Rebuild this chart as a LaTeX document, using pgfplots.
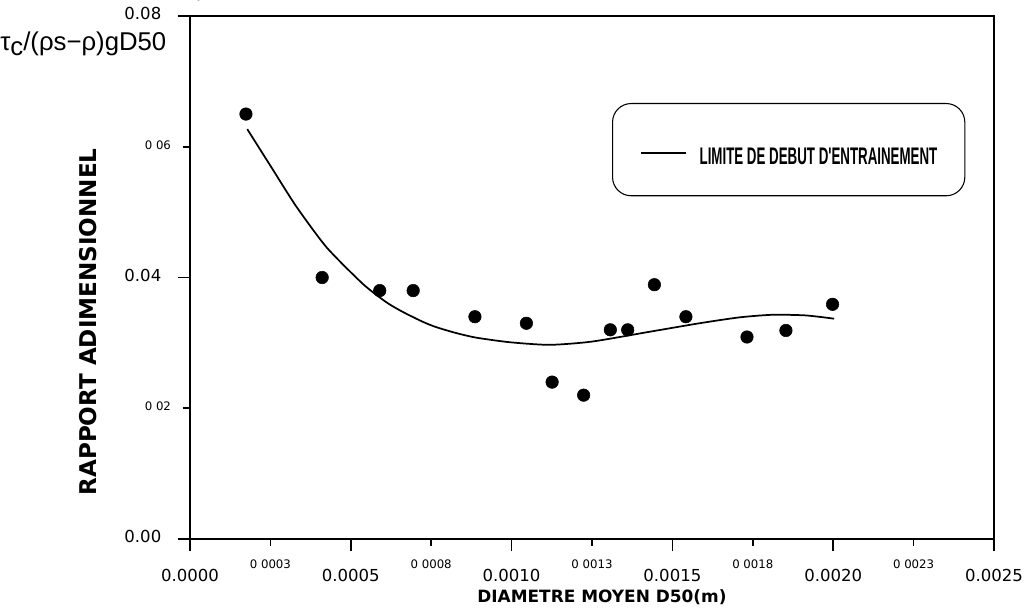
\documentclass[border=0pt]{standalone}
\usepackage{fontspec}
\setmainfont{DejaVu Sans}
\newfontfamily\tickfont{DejaVu Sans}
\newfontfamily\labfont{DejaVu Sans}
\newfontfamily\legfont{Liberation Sans}
\newfontfamily\symfont{Liberation Sans}
\usepackage{pgfplots}
\pgfplotsset{compat=1.18}
\usepackage{graphicx}

\pgfplotstableread{
x y
0.000174 0.0650
0.000411 0.0400
0.000590 0.0380
0.000694 0.0380
0.000886 0.0340
0.001046 0.0330
0.001126 0.0240
0.001224 0.0220
0.001307 0.0320
0.001361 0.0320
0.001444 0.0389
0.001542 0.0340
0.001732 0.0309
0.001853 0.0319
0.001998 0.0359
}\points

\pgfplotstableread{
x y
0.000178 0.0627
0.000250 0.0571
0.000330 0.0509
0.000425 0.0446
0.000538 0.0390
0.000611 0.0362
0.000663 0.0347
0.000725 0.0332
0.000766 0.0324
0.000828 0.0315
0.000890 0.0308
0.000994 0.0301
0.001118 0.0297
0.001250 0.0302
0.001429 0.0317
0.001584 0.0330
0.001708 0.0339
0.001812 0.0343
0.001915 0.0342
0.002003 0.0337
}\curve

\begin{document}
\begin{tikzpicture}
\begin{axis}[
  at={(0pt,0pt)}, anchor=south west,
  scale only axis, width=603pt, height=392.25pt,
  xmin=0, xmax=0.0025, ymin=0, ymax=0.08,
  clip=false,
  axis line style={line width=1.3pt},
  tick align=outside, tick pos=left,
  tick style={line width=1.2pt, black},
  major tick length=9pt,
  xtick={0,0.0005,0.001,0.0015,0.002,0.0025},
  xticklabels={0.0000,0.0005,0.0010,0.0015,0.0020,0.0025},
  extra x ticks={0.00025,0.00075,0.00125,0.00175,0.00225},
  extra x tick labels={0 0003,0 0008,0 0013,0 0018,0 0023},
  extra x tick style={major tick length=5pt,
     xticklabel style={font=\tickfont\fontsize{8.8}{9}\selectfont, yshift=5.25pt}},
  xticklabel style={font=\tickfont\fontsize{12.4}{13}\selectfont, anchor=center, yshift=-20.25pt},
  ytick={0,0.04,0.08},
  yticklabels={0.00,0.04,0.08},
  extra y ticks={0.02,0.06},
  extra y tick labels={0 02,0 06},
  extra y tick style={major tick length=5.5pt,
     yticklabel style={font=\tickfont\fontsize{8.8}{9}\selectfont, xshift=3.75pt}},
  yticklabel style={font=\tickfont\fontsize{12.4}{13}\selectfont, anchor=east, xshift=-9pt},
  typeset ticklabels with strut,
  legend style={at={(rel axis cs:0.5249,0.8337)}, anchor=north west,
     draw=black, line width=0.8pt, rounded corners=14pt,
     inner xsep=20.6pt, inner ysep=22pt,
     nodes={inner sep=0pt}, column sep=9.75pt},
  legend image code/.code={\draw[#1, line width=1.2pt] (0pt,0pt) -- (33.75pt,0pt);
     \path[draw=none, fill=none] (0pt,0pt) -- (0pt,15pt);},
]
\addplot[only marks, mark=*, mark size=4.7pt, black, forget plot] table {\points};
\addplot[smooth, tension=0.4, black, line width=1.3pt] table {\curve};
\addlegendentry{\legfont\bfseries\fontsize{18}{18}\selectfont\rule{0pt}{18.9pt}\scalebox{0.555}[1]{LIMITE DE DEBUT D'ENTRAINEMENT}}

\node[anchor=west, inner sep=0pt, font=\symfont\fontsize{19.3}{20}\selectfont]
  at (rel axis cs:-0.2363,0.9465) {τ\raisebox{-0.35ex}{c}/(ρs−ρ)gD50};
\node[anchor=center, inner sep=0pt, font=\labfont\bfseries\fontsize{12.7}{13}\selectfont]
  at (rel axis cs:0.5124,-0.1109) {DIAMETRE MOYEN D50(m)};
\node[anchor=center, rotate=90, inner sep=0pt, font=\labfont\bfseries\fontsize{17.3}{18}\selectfont]
  at (rel axis cs:-0.1269,0.4149) {RAPPORT ADIMENSIONNEL};
\end{axis}
\pgfresetboundingbox
\path[use as bounding box] (-142.5pt,-54.75pt) rectangle (629.25pt,404.25pt);
\end{tikzpicture}
\end{document}
